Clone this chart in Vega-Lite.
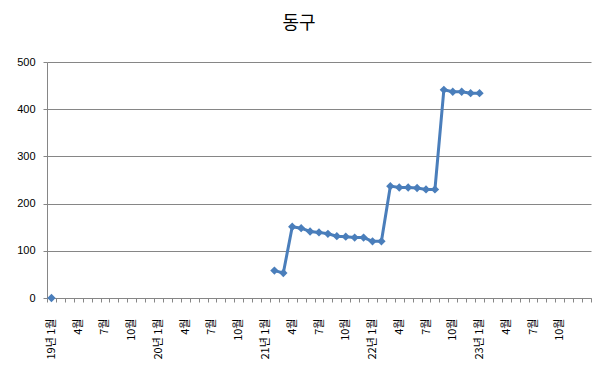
{
  "$schema": "https://vega.github.io/schema/vega-lite/v6.json",
  "width": 544,
  "height": 236,
  "autosize": {"type": "none"},
  "padding": {"left": 47, "top": 62, "right": 10, "bottom": 79},
  "background": "white",
  "title": {"text": "동구", "fontSize": 18, "font": "Noto Sans CJK KR", "fontWeight": "normal", "anchor": "middle", "dx": -20, "offset": 23, "color": "#000000"},
  "config": {"view": {"stroke": null}},
  "data": {"values": [
    {"ym": "2019-01", "value": 0},
    {"ym": "2021-02", "value": 58},
    {"ym": "2021-03", "value": 53},
    {"ym": "2021-04", "value": 151},
    {"ym": "2021-05", "value": 148},
    {"ym": "2021-06", "value": 141},
    {"ym": "2021-07", "value": 139},
    {"ym": "2021-08", "value": 136},
    {"ym": "2021-09", "value": 131},
    {"ym": "2021-10", "value": 130},
    {"ym": "2021-11", "value": 128},
    {"ym": "2021-12", "value": 128},
    {"ym": "2022-01", "value": 120},
    {"ym": "2022-02", "value": 120},
    {"ym": "2022-03", "value": 237},
    {"ym": "2022-04", "value": 234},
    {"ym": "2022-05", "value": 234},
    {"ym": "2022-06", "value": 233},
    {"ym": "2022-07", "value": 230},
    {"ym": "2022-08", "value": 230},
    {"ym": "2022-09", "value": 441},
    {"ym": "2022-10", "value": 437},
    {"ym": "2022-11", "value": 437},
    {"ym": "2022-12", "value": 434},
    {"ym": "2023-01", "value": 434}
  ]},
  "encoding": {
    "x": {
      "field": "ym",
      "type": "ordinal",
      "scale": {
        "type": "band",
        "paddingInner": 0,
        "paddingOuter": 0,
        "domain": ["2019-01","2019-02","2019-03","2019-04","2019-05","2019-06","2019-07","2019-08","2019-09","2019-10","2019-11","2019-12",
                   "2020-01","2020-02","2020-03","2020-04","2020-05","2020-06","2020-07","2020-08","2020-09","2020-10","2020-11","2020-12",
                   "2021-01","2021-02","2021-03","2021-04","2021-05","2021-06","2021-07","2021-08","2021-09","2021-10","2021-11","2021-12",
                   "2022-01","2022-02","2022-03","2022-04","2022-05","2022-06","2022-07","2022-08","2022-09","2022-10","2022-11","2022-12",
                   "2023-01","2023-02","2023-03","2023-04","2023-05","2023-06","2023-07","2023-08","2023-09","2023-10","2023-11","2023-12",
                   "2024-01"]
      },
      "axis": {
        "title": null,
        "labelAngle": -90,
        "labelAlign": "right",
        "labelBaseline": "middle",
        "labelPadding": 16,
        "labelOverlap": false,
        "tickBand": "extent",
        "tickSize": 4,
        "tickColor": "#868686",
        "domainColor": "#868686",
        "grid": false,
        "labelFont": "Noto Sans CJK KR",
        "labelFontSize": 11,
        "labelColor": "#000000",
        "labelExpr": "datum.value == '2024-01' ? '' : (substring(datum.value,5,7) == '01' ? substring(datum.value,2,4) + '년 1월' : (indexof(['04','07','10'], substring(datum.value,5,7)) >= 0 ? toNumber(substring(datum.value,5,7)) + '월' : ''))"
      }
    },
    "y": {
      "field": "value",
      "type": "quantitative",
      "scale": {"domain": [0, 500], "nice": false},
      "axis": {
        "title": null,
        "values": [0, 100, 200, 300, 400, 500],
        "grid": true,
        "gridColor": "#868686",
        "domainColor": "#868686",
        "tickColor": "#868686",
        "tickSize": 4,
        "labelPadding": 8,
        "labelFont": "Liberation Sans",
        "labelFontSize": 11,
        "labelColor": "#000000"
      }
    }
  },
  "layer": [
    {
      "transform": [{"filter": "datum.ym >= '2021'"}],
      "mark": {"type": "line", "color": "#4A7EBB", "strokeWidth": 3}
    },
    {
      "mark": {"type": "point", "shape": "diamond", "filled": true, "size": 70, "color": "#4A7EBB", "opacity": 1}
    }
  ]
}
